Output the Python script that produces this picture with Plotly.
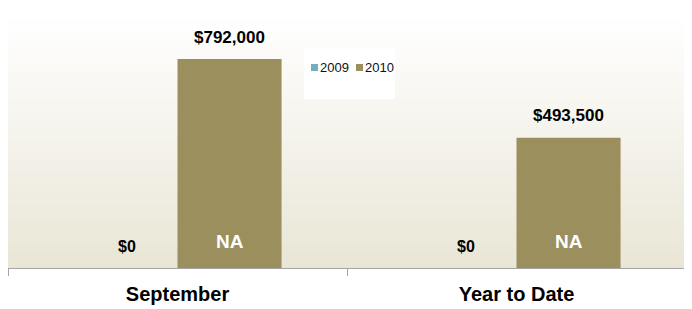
import plotly.graph_objects as go

categories = ["September", "Year to Date"]
series_names = ["2009", "2010"]
values_2009 = [0, 0]
values_2010 = [792000, 493500]
labels_2009 = ["$0", "$0"]
labels_2010 = ["$792,000", "$493,500"]
inner_2010 = ["NA", "NA"]
colors = ["#72AEBB", "#9C8F5E"]

# page has 8px body margin; figure placed at page (8, 8)
OFF = 8
W, H = 684, 301
ml, mr, mt, mb = 0, 6, 8, 41
ymax = 955000
FONT = "Arial, Liberation Sans, sans-serif"

fig = go.Figure()
fig.add_trace(go.Bar(x=categories, y=values_2009, name=series_names[0],
                     marker=dict(color=colors[0], line=dict(width=0)), showlegend=False))
fig.add_trace(go.Bar(x=categories, y=values_2010, name=series_names[1],
                     marker=dict(color=colors[1], line=dict(width=0)), showlegend=False))

shapes = []
n = 60
c0 = (255, 255, 255)
c1 = (233, 230, 214)
for i in range(n):
    t = (i + 0.5) / n
    r = round(c0[0] + (c1[0] - c0[0]) * t)
    g = round(c0[1] + (c1[1] - c0[1]) * t)
    b = round(c0[2] + (c1[2] - c0[2]) * t)
    shapes.append(dict(type="rect", xref="paper", yref="paper", layer="below",
                       x0=0, x1=1, y0=max(0, 1 - (i + 1) / n), y1=min(1, 1 - i / n + 0.002),
                       fillcolor=f"rgb({r},{g},{b})", line=dict(width=0)))

pw = W - ml - mr
ph = H - mt - mb
def px_x(p):  # page px -> paper
    return (p - OFF - ml) / pw
def px_y(p):
    return (H - mb - (p - OFF)) / ph

# legend box
shapes.append(dict(type="rect", xref="paper", yref="paper",
                   x0=px_x(304), x1=px_x(395), y0=px_y(99), y1=px_y(49),
                   fillcolor="white", line=dict(width=0), layer="below"))
annotations = []
leg_x = [311, 356]
for i, nm in enumerate(series_names):
    shapes.append(dict(type="rect", xref="paper", yref="paper",
                       x0=px_x(leg_x[i]), x1=px_x(leg_x[i] + 7),
                       y0=px_y(71), y1=px_y(64),
                       fillcolor=colors[i], line=dict(width=0)))
    annotations.append(dict(xref="paper", yref="paper", x=px_x(leg_x[i] + 7), y=px_y(67.5),
                            text=nm, showarrow=False, xanchor="left", yanchor="middle",
                            font=dict(size=13, color="#111111")))

shift = 52
for i, c in enumerate(categories):
    annotations.append(dict(x=c, y=values_2009[i], xref="x", yref="y", xshift=-shift + 1,
                            yshift=22, text=f"<b>{labels_2009[i]}</b>", showarrow=False,
                            yanchor="middle", font=dict(size=16, color="black")))
    annotations.append(dict(x=c, y=values_2010[i], xref="x", yref="y", xshift=shift,
                            yshift=22, text=f"<b>{labels_2010[i]}</b>", showarrow=False,
                            yanchor="middle", font=dict(size=17, color="black")))
    annotations.append(dict(x=c, y=0, xref="x", yref="y", xshift=shift,
                            yshift=27, text=f"<b>{inner_2010[i]}</b>", showarrow=False,
                            yanchor="middle", font=dict(size=19, color="white")))

fig.update_layout(
    width=W, height=H,
    margin=dict(l=ml, r=mr, t=mt, b=mb),
    paper_bgcolor="white", plot_bgcolor="rgba(0,0,0,0)",
    barmode="group", bargap=0.386, bargroupgap=0,
    font=dict(family=FONT),
    shapes=shapes, annotations=annotations,
    showlegend=False,
)
fig.update_xaxes(showline=True, linecolor="#A6A6A6", linewidth=1,
                 ticks="outside", tickson="boundaries", ticklen=7, tickcolor="#A6A6A6",
                 tickfont=dict(size=20, color="black", family=FONT),
                 ticklabelstandoff=8,
                 tickprefix="<b>", ticksuffix="</b>", showgrid=False)
fig.update_yaxes(range=[0, ymax], visible=False, showgrid=False)

fig.write_html("out.html")
